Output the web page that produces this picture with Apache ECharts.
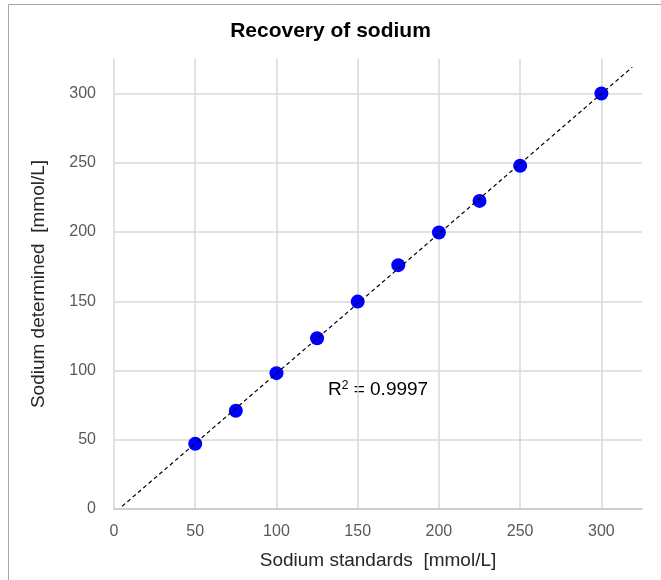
<!DOCTYPE html>
<html>
<head>
<meta charset="utf-8">
<script src="https://cdn.jsdelivr.net/npm/echarts@6/dist/echarts.min.js"></script>
<style>
  html, body { margin: 0; padding: 0; background: #fff; }
  #main { width: 661px; height: 580px; }
</style>
</head>
<body>
<div id="main"></div>
<script>
// sodium standards vs. determined values
var standards = [50, 75, 100, 125, 150, 175, 200, 225, 250, 300]
var determined = [47.1, 71.0, 98.1, 123.3, 149.8, 176.1, 199.7, 222.5, 247.9, 300.1]
var trendRange = [5, 319] // how far excel drew the trendline
var rSquared = "0.9997"

// least squares fit for the trendline
function fitLine(xs, ys) {
  var n = xs.length, sx = 0, sy = 0, sxy = 0, sxx = 0
  for (var i = 0; i < n; i++) {
    sx += xs[i]
    sy += ys[i]
    sxy += xs[i] * ys[i]
    sxx += xs[i] * xs[i]
  }
  var slope = (n * sxy - sx * sy) / (n * sxx - sx * sx)
  return { slope: slope, intercept: (sy - slope * sx) / n }
}

var fit = fitLine(standards, determined)
var trendData = trendRange.map(function(x) {
  return [x, fit.slope * x + fit.intercept]
})
var points = standards.map(function(x, i) {
  return [x, determined[i]]
})

var font = "Liberation Sans"
var chart = echarts.init(document.getElementById("main"))

var option = {
  animation: false,
  textStyle: { fontFamily: font },
  title: {
    text: "Recovery of sodium",
    left: "center",
    top: 16,
    textStyle: { fontSize: 21, fontWeight: "bold", color: "#000", fontFamily: font },
  },
  grid: { left: 114, right: 19, top: 59, bottom: 71 },
  xAxis: {
    type: "value",
    min: 0,
    max: 325,
    interval: 50,
    name: "Sodium standards  [mmol/L]",
    nameLocation: "middle",
    nameGap: 42,
    nameTextStyle: { fontSize: 19, color: "#262626" },
    axisLine: { show: true, onZero: false, lineStyle: { color: "#C8C8C8", width: 1.5 } },
    axisTick: { show: false },
    axisLabel: { fontSize: 16, color: "#595959", margin: 15, showMaxLabel: false },
    splitLine: { show: true, showMaxLine: false, lineStyle: { color: "#D9D9D9", width: 1.5 } },
  },
  yAxis: {
    type: "value",
    min: 0,
    max: 325,
    interval: 50,
    name: "Sodium determined  [mmol/L]",
    nameLocation: "middle",
    nameGap: 66,
    nameTextStyle: { fontSize: 19, color: "#262626" },
    axisLine: { show: false },
    axisTick: { show: false },
    axisLabel: { fontSize: 16, color: "#595959", margin: 18, showMaxLabel: false },
    splitLine: { show: true, showMaxLine: false, lineStyle: { color: "#D9D9D9", width: 1.5 } },
  },
  graphic: [
    {
      type: "rect",
      shape: { x: 8.5, y: 4.5, width: 700, height: 700 },
      style: { fill: "none", stroke: "#A6A6A6", lineWidth: 1 },
      silent: true,
    },
    {
      type: "text",
      left: 328,
      top: 380,
      style: {
        text: "{b|R}{s|2}{b| = " + rSquared + "}",
        rich: {
          b: { fontSize: 19, fontFamily: font, color: "#000" },
          s: { fontSize: 12, fontFamily: font, color: "#000", verticalAlign: "top", lineHeight: 12 },
        },
      },
    },
  ],
  series: [
    {
      type: "line",
      data: trendData,
      symbol: "none",
      lineStyle: { color: "#000", width: 1.2, type: [4, 3] },
      z: 3,
    },
    {
      type: "scatter",
      data: points,
      symbol: "circle",
      symbolSize: 14,
      itemStyle: { color: "#0000FF", opacity: 1 },
      z: 2,
    },
  ],
}

chart.setOption(option)
</script>
</body>
</html>
